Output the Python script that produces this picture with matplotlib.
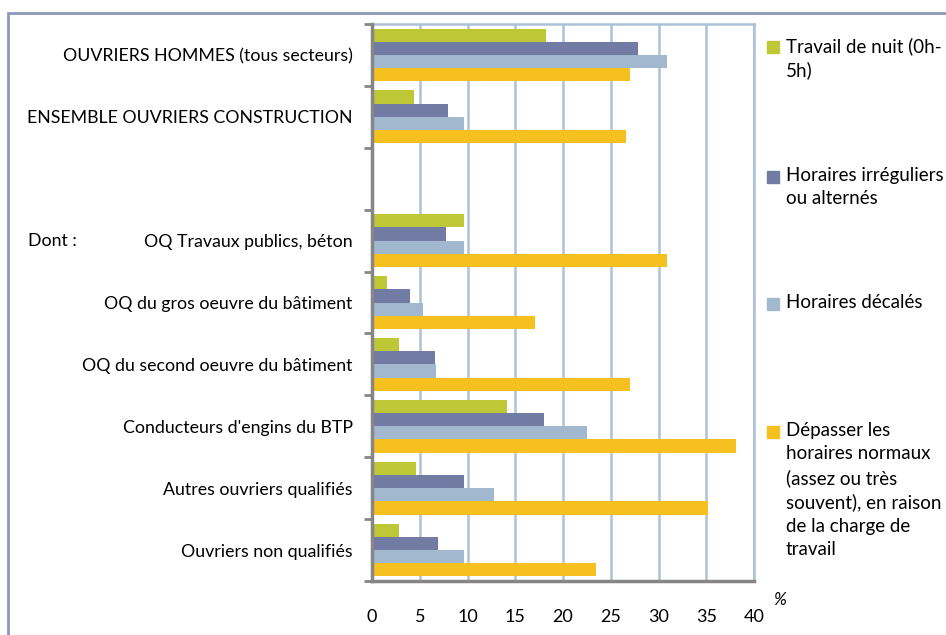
import numpy as np
import matplotlib.pyplot as plt
from matplotlib.patches import Rectangle

plt.rcParams['font.family'] = ['Lato', 'DejaVu Sans']

categories = ["OUVRIERS HOMMES (tous secteurs)", "ENSEMBLE OUVRIERS CONSTRUCTION", "",
              "OQ Travaux publics, béton", "OQ du gros oeuvre du bâtiment",
              "OQ du second oeuvre du bâtiment", "Conducteurs d'engins du BTP",
              "Autres ouvriers qualifiés", "Ouvriers non qualifiés"]
nuit = [18.2, 4.4, np.nan, 9.6, 1.6, 2.8, 14.1, 4.6, 2.8]
irreguliers = [27.9, 8.0, np.nan, 7.7, 4.0, 6.6, 18.0, 9.6, 6.9]
decales = [30.9, 9.6, np.nan, 9.6, 5.3, 6.7, 22.5, 12.8, 9.6]
depasser = [27.0, 26.6, np.nan, 30.9, 17.1, 27.0, 38.1, 35.2, 23.5]

labels = ["Travail de nuit (0h-\n5h)", "Horaires irréguliers\nou alternés", "Horaires décalés",
          "Dépasser les\nhoraires normaux\n(assez ou très\nsouvent), en raison\nde la charge de\ntravail"]
colors = ['#bec837', '#727ba3', '#a1b8cf', '#f6c01e']
series = [nuit, irreguliers, decales, depasser]

fig = plt.figure(figsize=(9.46, 6.35), dpi=100)
ax = fig.add_axes([372/946, 1-581/635, 382/946, 557/635])

y = np.arange(len(categories))
h = 0.213
for i, (vals, c) in enumerate(zip(series, colors)):
    ax.barh(y + (i - 1.5) * h, vals, height=h, color=c, zorder=3)

ax.set_xlim(0, 40)
ax.set_ylim(len(categories) - 0.5, -0.5)
ax.set_xticks(np.arange(0, 41, 5))
ax.tick_params(axis='x', length=0, pad=20, labelsize=13)
ax.set_yticks(y)
ax.set_yticklabels(categories, fontsize=12.8)
ax.tick_params(axis='y', which='major', length=0, pad=14)
ax.set_yticks(np.arange(-0.5, len(categories), 1), minor=True)
ax.tick_params(axis='y', which='minor', length=6, width=2, color='#868686')

ax.grid(axis='x', color='#adc1d8', lw=1.8, zorder=0)
for s in ['top', 'right']:
    ax.spines[s].set_color('#adc1d8')
    ax.spines[s].set_linewidth(1.8)
for s in ['left', 'bottom']:
    ax.spines[s].set_color('#868686')
    ax.spines[s].set_linewidth(2.5)
    ax.spines[s].set_zorder(4)

ax.text(-0.9, 3, "Dont :", transform=ax.get_yaxis_transform(), ha='left', va='center', fontsize=12.8)
fig.text(780/946, 1-600/635, "%", ha='center', va='center', fontsize=12.5, style='italic')

# legend, drawn by hand to keep the markers on the first line
leg_y = [47, 177, 304, 432]
for lab, c, yy in zip(labels, colors, leg_y):
    fig.add_artist(Rectangle((767/946, 1-(yy+6)/635), 12/946, 12/635, color=c,
                             transform=fig.transFigure))
    fig.text(786/946, 1-(yy-10)/635, lab, ha='left', va='top', fontsize=13.5, linespacing=1.45)

fig.add_artist(Rectangle((8/946, -0.1), 1.2, 1.1-13/635, fill=False, edgecolor='#8d98b9',
                         lw=2, transform=fig.transFigure))

fig.savefig('out.png', dpi=100)
